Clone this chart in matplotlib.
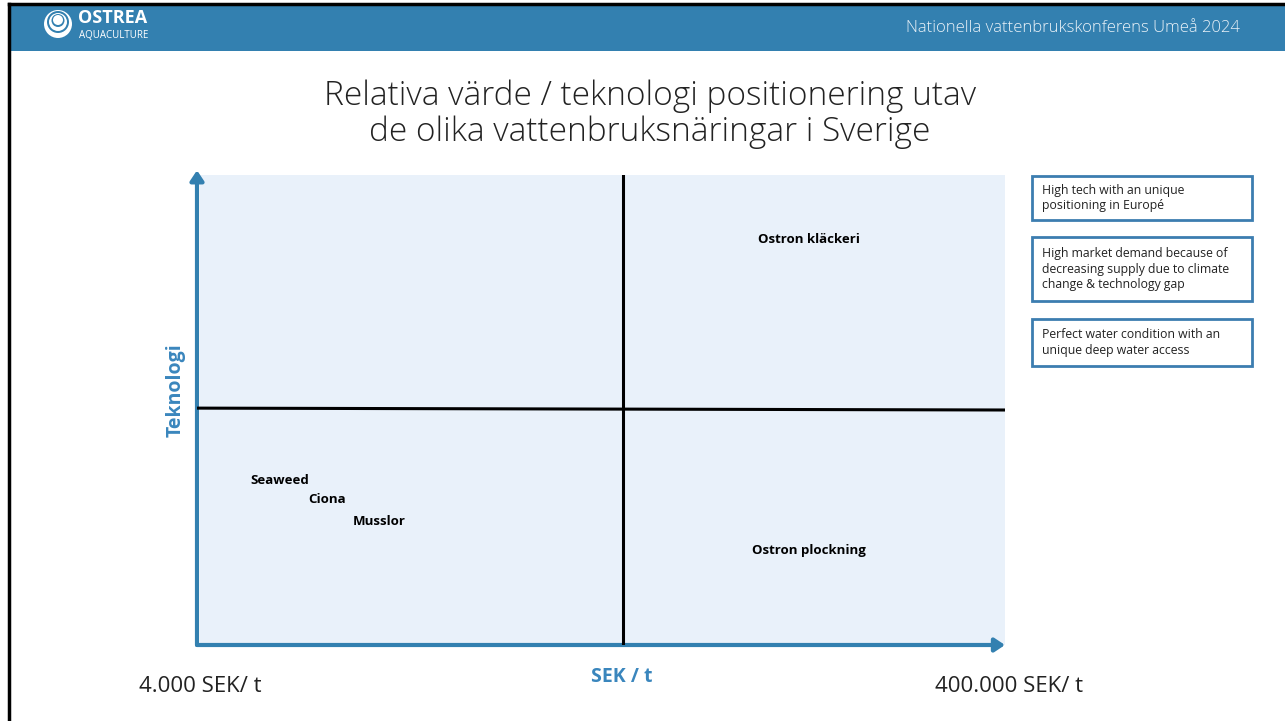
import matplotlib.pyplot as plt
from matplotlib.patches import Rectangle, Ellipse, FancyArrowPatch

# data
segments = ["Ostron kläckeri", "Ostron plockning", "Seaweed", "Ciona", "Musslor"]
value_pos = [0.757, 0.757, 0.103, 0.161, 0.226]     # relativt värde (SEK / t)
tech_pos = [0.862, 0.202, 0.349, 0.309, 0.262]      # teknologi
x_split = 0.527
y_split = [0.504, 0.500]
notes = [
    "High tech with an unique\npositioning in Europé",
    "High market demand because of\ndecreasing supply due to climate\nchange & technology gap",
    "Perfect water condition with an\nunique deep water access",
]
x_ends = ["4.000 SEK/ t", "400.000 SEK/ t"]

W, H = 1285, 721
BLUE = "#3380B0"
LIGHT = "#E9F1FA"
plt.rcParams['font.family'] = ['Open Sans', 'DejaVu Sans']

fig = plt.figure(figsize=(W / 100, H / 100), dpi=100)
fig.patch.set_facecolor("white")

def fx(px):
    return px / W

def fy(py):
    return 1 - py / H

# slide frame + header bar
fig.patches.append(Rectangle((fx(9), fy(51)), 1, fy(5) - fy(51), transform=fig.transFigure,
                             facecolor=BLUE, edgecolor="none"))
fig.add_artist(plt.Line2D([fx(9), fx(9)], [0, fy(4)], color="black", lw=2.5, transform=fig.transFigure))
fig.add_artist(plt.Line2D([fx(9), 1], [fy(4), fy(4)], color="black", lw=2.5, transform=fig.transFigure))

# logo
for r, c, dy in [(14, "white", 0), (11, BLUE, -2), (9, "white", -2), (6.5, BLUE, -3.5), (5, "white", -4)]:
    fig.patches.append(Ellipse((fx(58), fy(24 + dy)), 2 * r / W, 2 * r / H, transform=fig.transFigure,
                               facecolor=c, edgecolor="none"))
fig.text(fx(78), fy(18), "OSTREA", color="white", fontsize=13, fontweight="bold", va="center")
fig.text(fx(79), fy(35), "AQUACULTURE", color="white", fontsize=7, va="center")
fig.text(fx(1240), fy(28), "Nationella vattenbrukskonferens Umeå 2024", color="#EAF2F8",
         fontsize=12, ha="right", va="center", fontweight="light")

# title
fig.text(fx(650), fy(114), "Relativa värde / teknologi positionering utav\nde olika vattenbruksnäringar i Sverige",
         ha="center", va="center", fontsize=24, fontweight="light", color="#222222", linespacing=1.1)

# main quadrant chart
ax = fig.add_axes([fx(197), fy(645), fx(1005) - fx(197), fy(175) - fy(645)])
ax.set_xlim(0, 1)
ax.set_ylim(0, 1)
ax.axis("off")
ax.add_patch(Rectangle((0.004, 0), 0.996, 1, facecolor=LIGHT, edgecolor="none"))
ax.plot([x_split, x_split], [0, 1], color="black", lw=2.2)
ax.plot([0, 1], y_split, color="black", lw=2.2)
ax.add_patch(FancyArrowPatch((0, 0), (0, 1.01), arrowstyle="-|>,head_length=6,head_width=4",
                             color=BLUE, lw=3, shrinkA=0, shrinkB=0, clip_on=False))
ax.add_patch(FancyArrowPatch((0, 0), (1.0, 0), arrowstyle="-|>,head_length=6,head_width=4",
                             color=BLUE, lw=3, shrinkA=0, shrinkB=0, clip_on=False))
for name, xv, yv in zip(segments, value_pos, tech_pos):
    ax.text(xv, yv, name, ha="center", va="center", fontsize=9.5, fontweight="bold", color="black")

fig.text(fx(176), fy(390), "Teknologi", rotation=90, ha="center", va="center",
         fontsize=14, fontweight="bold", color="#3A86BD")
fig.text(fx(622), fy(677), "SEK / t", ha="center", va="center",
         fontsize=14, fontweight="bold", color="#3A86BD")
fig.text(fx(200), fy(686), x_ends[0], ha="center", va="center", fontsize=16, color="#222222")
fig.text(fx(1009), fy(686), x_ends[1], ha="center", va="center", fontsize=16, color="#222222")

# note boxes
boxes = [(176, 220), (237, 301), (319, 366)]
for (top, bot), txt in zip(boxes, notes):
    fig.patches.append(Rectangle((fx(1032), fy(bot)), fx(1252) - fx(1032), fy(top) - fy(bot),
                                 transform=fig.transFigure, facecolor="white",
                                 edgecolor="#3C7DB0", lw=2))
    fig.text(fx(1042), fy((top + bot) / 2), txt, ha="left", va="center", fontsize=8.8,
             color="#222222", linespacing=1.25)

fig.savefig("out.png", dpi=100)
